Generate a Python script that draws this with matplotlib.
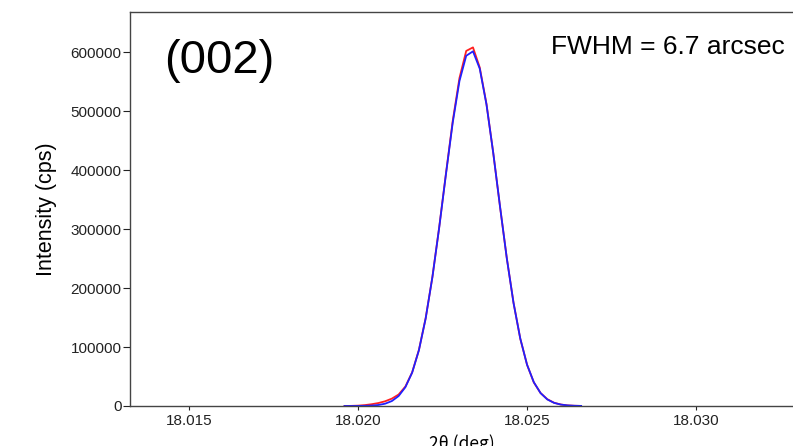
import numpy as np
import matplotlib
matplotlib.use("Agg")
import matplotlib.pyplot as plt

# 2theta scan (deg) and intensities (cps)
two_theta = [18.0196, 18.0198, 18.0200, 18.0202, 18.0204, 18.0206, 18.0208, 18.0210,
             18.0212, 18.0214, 18.0216, 18.0218, 18.0220, 18.0222, 18.0224, 18.0226,
             18.0228, 18.0230, 18.0232, 18.0234, 18.0236, 18.0238, 18.0240, 18.0242,
             18.0244, 18.0246, 18.0248, 18.0250, 18.0252, 18.0254, 18.0256, 18.0258,
             18.0260, 18.0262, 18.0264, 18.0266]

measured = [0, 200, 600, 1500, 3000, 5000, 8000, 12500,
            19500, 33000, 57000, 95000, 149000, 219000, 303000, 394000,
            483000, 556000, 602000, 608000, 574000, 512000, 429000, 338000,
            251000, 175000, 114000, 70000, 40000, 22000, 11500, 5500,
            2500, 1000, 400, 100]

fitted = [0, 0, 100, 300, 700, 1700, 3900, 8400,
          16900, 31900, 56600, 94500, 148400, 218700, 302200, 392900,
          480100, 551000, 593800, 601300, 572000, 511000, 429000, 338400,
          250800, 174700, 114300, 70000, 40400, 21900, 11100, 5300,
          2400, 1000, 400, 150]

xticks = [18.015, 18.020, 18.025, 18.030]
yticks = [0, 100000, 200000, 300000, 400000, 500000, 600000]

fig = plt.figure(figsize=(7.93, 4.46), dpi=100)
ax = fig.add_axes([0.1639, 0.0897, 0.8361, 0.8834])

ax.plot(two_theta, measured, color="#ff2020", lw=1.3)
ax.plot(two_theta, fitted, color="#2020ff", lw=1.3)

ax.set_xlim(18.01325, 18.03287)
ax.set_ylim(0, 668000)
ax.set_xticks(xticks)
ax.set_xticklabels(["%.3f" % t for t in xticks], fontsize=11, family="Liberation Sans")
ax.set_yticks(yticks)
ax.set_yticklabels([str(t) for t in yticks], fontsize=11, family="Liberation Sans")
ax.tick_params(axis="y", direction="out", length=5, pad=1, colors="#222222")
ax.tick_params(axis="x", direction="out", length=3, pad=3, colors="#222222")

for s in ["left", "bottom", "top"]:
    ax.spines[s].set_color("#444444")
    ax.spines[s].set_linewidth(1.0)
ax.spines["right"].set_visible(False)

ax.set_ylabel("Intensity (cps)", fontsize=15.5, family="Liberation Sans", labelpad=10)
ax.set_xlabel("2θ (deg)", fontsize=12.5, family=["Noto Sans CJK JP", "DejaVu Sans"], labelpad=4)

ax.text(0.051, 0.875, "(002)", transform=ax.transAxes, fontsize=34,
        family="Liberation Sans", va="center", ha="left")
ax.text(0.988, 0.91, "FWHM = 6.7 arcsec", transform=ax.transAxes, fontsize=19,
        family="Liberation Sans", va="center", ha="right")

fig.savefig("out.png", dpi=100)
